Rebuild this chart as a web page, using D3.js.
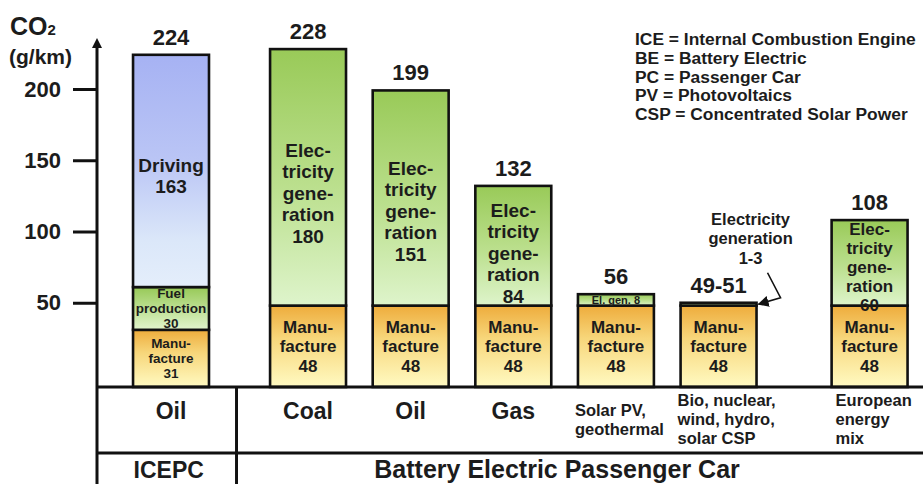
<!DOCTYPE html>
<html>
<head>
<meta charset="utf-8">
<script src="https://cdn.jsdelivr.net/npm/d3@7"></script>
<style>
  body { margin: 0; background: #fff; }
  text { font-family: "Liberation Sans", Arial, sans-serif; font-weight: bold; fill: #1c1c1c; }
</style>
</head>
<body>
<svg id="chart"></svg>
<script>
(function() {
  // chart values
  var categories = ['ice-oil', 'coal', 'be-oil', 'gas', 'solar', 'bio', 'mix'];
  var sourceLabels = [['Oil'], ['Coal'], ['Oil'], ['Gas'], ['Solar PV,', 'geothermal'],
                      ['Bio, nuclear,', 'wind, hydro,', 'solar CSP'], ['European', 'energy', 'mix']];
  var manufacture = [31, 48, 48, 48, 48, 48, 48];
  var fuelProduction = [30, 0, 0, 0, 0, 0, 0];
  var electricity = [0, 180, 151, 84, 8, 2, 60];
  var driving = [163, 0, 0, 0, 0, 0, 0];
  var totalLabels = ['224', '228', '199', '132', '56', '49-51', '108'];
  var bioRange = '1-3';
  var groupLabels = ['ICEPC', 'Battery Electric Passenger Car'];
  var yTicks = [50, 100, 150, 200];
  var legendLines = ['ICE = Internal Combustion Engine', 'BE = Battery Electric', 'PC = Passenger Car',
                     'PV = Photovoltaics', 'CSP = Concentrated Solar Power'];

  var opts = { width: 923, height: 484, axisX: 97, tableTop: 387, tableMid: 453 };

  var svg = d3.select('#chart')
              .attr('width', opts.width)
              .attr('height', opts.height);

  var keys = ['manufacture', 'fuel', 'electricity', 'driving'];
  var rows = categories.map(function(c, i) {
    return { cat: c, i: i, manufacture: manufacture[i], fuel: fuelProduction[i],
             electricity: electricity[i], driving: driving[i] };
  });
  var series = d3.stack().keys(keys)(rows);

  var y = d3.scaleLinear().domain([0, 200]).range([374, 89]);

  var x = d3.scaleBand().domain(categories)
            .range([119.7, 838.1])
            .paddingInner(0.26).paddingOuter(0.13);
  var bw = x.bandwidth();
  // ICE bar stands apart from the BE group, the European mix apart from the rest
  var xPos = function(cat) {
    var i = categories.indexOf(cat);
    return x(cat) + (i > 0 ? 34.4 : 0) + (i > 5 ? 48.4 : 0);
  };

  // gradients
  var defs = svg.append('defs');
  var gradients = {
    driving: [['0%', '#a6b2f3'], ['45%', '#bac5f5'], ['80%', '#dbe7f9'], ['100%', '#e4eefb']],
    fuel: [['0%', '#97c957'], ['100%', '#e2f5cd']],
    electricity: [['0%', '#99ca58'], ['55%', '#bce08f'], ['100%', '#def4cb']],
    manufacture: [['0%', '#eeac3c'], ['40%', '#f7d67a'], ['100%', '#fffac2']]
  };
  Object.keys(gradients).forEach(function(k) {
    var g = defs.append('linearGradient').attr('id', 'grad-' + k)
                .attr('x1', 0).attr('y1', 0).attr('x2', 0).attr('y2', 1);
    g.selectAll('stop').data(gradients[k]).enter().append('stop')
      .attr('offset', function(d) { return d[0]; })
      .attr('stop-color', function(d) { return d[1]; });
  });
  defs.append('marker').attr('id', 'arrow')
      .attr('viewBox', '0 0 10 10').attr('refX', 9).attr('refY', 5)
      .attr('markerWidth', 7).attr('markerHeight', 7).attr('orient', 'auto')
    .append('path').attr('d', 'M0,0 L10,5 L0,10 z').attr('fill', '#111');

  var segTop = function(d) { return y(d[1]); };
  var segBottom = function(d) { return d[0] === 0 ? opts.tableTop : y(d[0]); };

  // bars
  var layers = svg.selectAll('.layer').data(series)
    .enter().append('g').attr('class', 'layer');

  layers.selectAll('rect')
    .data(function(s) { return s.filter(function(d) { return d[1] - d[0] > 0; }); })
    .enter().append('rect')
      .attr('x', function(d) { return xPos(d.data.cat); })
      .attr('y', segTop)
      .attr('width', bw)
      .attr('height', function(d) { return segBottom(d) - segTop(d); })
      .attr('fill', function() { return 'url(#grad-' + d3.select(this.parentNode).datum().key + ')'; })
      .attr('stroke', '#111')
      .attr('stroke-width', 2.6);

  // text inside the segments
  var segmentLines = function(key, v, h) {
    if (key === 'manufacture') return ['Manu-', 'facture', String(v)];
    if (key === 'fuel') return ['Fuel', 'production', String(v)];
    if (key === 'driving') return ['Driving', String(v)];
    if (h < 8) return [];
    if (h < 50) return ['El. gen. ' + v];
    return ['Elec-', 'tricity', 'gene-', 'ration', String(v)];
  };

  series.forEach(function(s) {
    s.forEach(function(d) {
      var v = d[1] - d[0];
      if (v <= 0) return;
      var top = segTop(d), bottom = segBottom(d), h = bottom - top;
      var lines = segmentLines(s.key, v, h);
      if (!lines.length) return;
      var fs, lh, pos = 0.5;
      if (lines.length === 1) { fs = 11; lh = 12; }
      else if (h < 60) { fs = 13.5; lh = 15; }
      else if (s.key === 'manufacture') { fs = 17; lh = 19.5; }
      else if (h < 110) { fs = 17; lh = 19; pos = 0.55; }
      else { fs = 19; lh = 21.5; pos = s.key === 'electricity' ? 0.56 : 0.52; }
      var cy = top + (bottom - top) * pos;
      var first = cy - (lines.length - 1) * lh / 2 + fs * 0.36;
      var t = svg.append('text')
        .attr('text-anchor', 'middle')
        .attr('font-size', fs);
      t.selectAll('tspan').data(lines).enter().append('tspan')
        .attr('x', xPos(d.data.cat) + bw / 2)
        .attr('y', function(l, k) { return first + k * lh; })
        .text(function(l) { return l; });
    });
  });

  // totals above bars
  var totals = series[series.length - 1];
  svg.selectAll('.total').data(totals)
    .enter().append('text')
      .attr('class', 'total')
      .attr('text-anchor', 'middle')
      .attr('font-size', 22)
      .attr('x', function(d) { return xPos(d.data.cat) + bw / 2; })
      .attr('y', function(d) { return y(d[1]) - 10; })
      .text(function(d) { return totalLabels[d.data.i]; });

  // annotation for the thin green segment of the bio bar
  var bioTop = y(manufacture[5] + electricity[5]);
  var bioRight = xPos('bio') + bw;
  var bioMid = xPos('bio') + bw / 2 + 32;
  var note = svg.append('text').attr('text-anchor', 'middle').attr('font-size', 16.5);
  note.selectAll('tspan').data(['Electricity', 'generation', bioRange])
    .enter().append('tspan')
      .attr('x', bioMid)
      .attr('y', function(l, k) { return bioTop - 78 + k * 19.5; })
      .text(function(l) { return l; });
  svg.append('path')
    .attr('d', d3.line()([[bioRight + 11, bioTop - 30], [bioRight + 24, bioTop - 5],
                          [bioRight + 2, y(manufacture[5] + electricity[5] / 2)]]))
    .attr('fill', 'none').attr('stroke', '#111').attr('stroke-width', 1.6)
    .attr('marker-end', 'url(#arrow)');

  // y axis
  var axis = svg.append('g')
    .attr('transform', 'translate(' + opts.axisX + ',0)')
    .call(d3.axisLeft(y).tickValues(yTicks).tickSize(24).tickPadding(12));
  axis.select('.domain').remove();
  axis.selectAll('.tick line').attr('stroke', '#111').attr('stroke-width', 3);
  axis.selectAll('.tick text')
    .attr('font-size', 22)
    .attr('font-family', '"Liberation Sans", Arial, sans-serif')
    .attr('fill', '#1c1c1c');

  svg.append('line')
    .attr('x1', opts.axisX).attr('x2', opts.axisX)
    .attr('y1', opts.height).attr('y2', 46)
    .attr('stroke', '#111').attr('stroke-width', 3);
  svg.append('path')
    .attr('d', d3.line()([[opts.axisX - 5, 48], [opts.axisX, 38], [opts.axisX + 5, 48]]))
    .attr('fill', '#111');

  var unit = svg.append('text').attr('x', 10).attr('y', 35).attr('font-size', 25);
  unit.append('tspan').text('CO');
  unit.append('tspan').attr('font-size', 15).text('2');
  svg.append('text').attr('x', 9).attr('y', 64).attr('font-size', 21).text('(g/km)');

  // legend of abbreviations
  svg.append('g').selectAll('text').data(legendLines)
    .enter().append('text')
      .attr('x', 635)
      .attr('y', function(d, i) { return 45 + i * 18.8; })
      .attr('font-size', 17.4)
      .text(function(d) { return d; });

  // table under the bars
  var divider = (xPos('ice-oil') + bw + xPos('coal')) / 2 - 3;
  var table = svg.append('g').attr('stroke', '#111').attr('stroke-width', 3);
  table.append('line').attr('x1', opts.axisX).attr('x2', opts.width)
       .attr('y1', opts.tableTop).attr('y2', opts.tableTop);
  table.append('line').attr('x1', opts.axisX).attr('x2', opts.width)
       .attr('y1', opts.tableMid).attr('y2', opts.tableMid);
  table.append('line').attr('x1', divider).attr('x2', divider)
       .attr('y1', opts.tableTop).attr('y2', opts.height);

  sourceLabels.forEach(function(lines, i) {
    var cat = categories[i];
    if (lines.length === 1) {
      svg.append('text')
        .attr('text-anchor', 'middle').attr('font-size', 23)
        .attr('x', xPos(cat) + bw / 2).attr('y', 419)
        .text(lines[0]);
    } else {
      var first = 419 - (lines.length - 1) * 19 / 2 + 6;
      var t = svg.append('text').attr('font-size', 16.5);
      t.selectAll('tspan').data(lines).enter().append('tspan')
        .attr('x', xPos(cat) + (i > 5 ? 4 : -3))
        .attr('y', function(l, k) { return first + k * 19; })
        .text(function(l) { return l; });
    }
  });

  svg.append('text').attr('text-anchor', 'middle').attr('font-size', 23)
    .attr('x', (opts.axisX + divider) / 2 + 2).attr('y', 478)
    .text(groupLabels[0]);
  svg.append('text').attr('text-anchor', 'middle').attr('font-size', 25)
    .attr('x', (divider + xPos('mix') + bw / 2) / 2 + 4).attr('y', 478)
    .text(groupLabels[1]);
}).call(this);
</script>
</body>
</html>
